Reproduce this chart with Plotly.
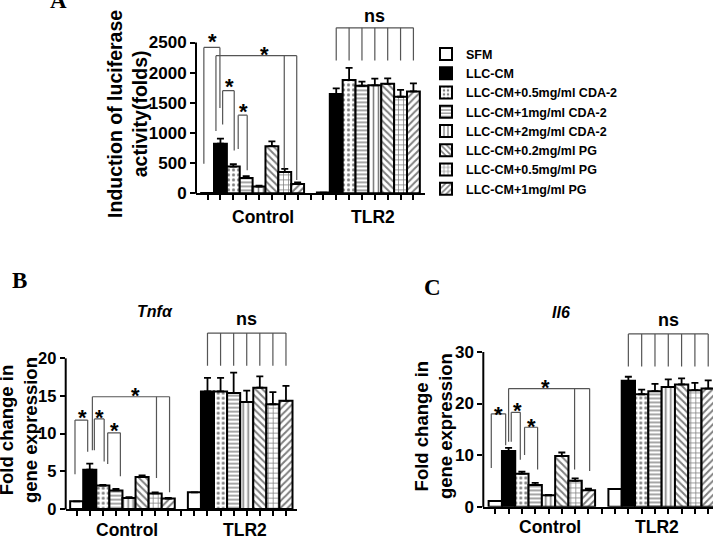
import plotly.graph_objects as go

W, H = 713, 551
FONT = "Liberation Sans, Arial, sans-serif"
SERIF = "Liberation Serif, Times New Roman, serif"

# ---------------- data ----------------
labels = ["SFM", "LLC-CM", "LLC-CM+0.5mg/ml CDA-2", "LLC-CM+1mg/ml CDA-2",
          "LLC-CM+2mg/ml CDA-2", "LLC-CM+0.2mg/ml PG", "LLC-CM+0.5mg/ml PG",
          "LLC-CM+1mg/ml PG"]
groups = ["Control", "TLR2"]

a_ctrl = [1, 820, 440, 250, 110, 780, 350, 152]
a_ctrl_err = [0, 85, 40, 32, 15, 80, 52, 27]
a_tlr2 = [10, 1645, 1878, 1782, 1790, 1815, 1600, 1688]
a_tlr2_err = [0, 95, 200, 68, 110, 90, 115, 135]

b_ctrl = [1.0, 5.2, 3.1, 2.45, 1.45, 4.25, 2.05, 1.37]
b_ctrl_err = [0, 0.8, 0.1, 0.2, 0.1, 0.2, 0.15, 0.1]
b_tlr2 = [2.2, 15.6, 15.6, 15.4, 14.2, 16.1, 13.9, 14.35]
b_tlr2_err = [0, 1.8, 1.8, 2.7, 1.5, 1.5, 1.6, 2.0]

c_ctrl = [1.1, 10.8, 6.4, 4.2, 2.2, 9.8, 5.0, 3.2]
c_ctrl_err = [0, 0.6, 0.4, 0.4, 0.1, 0.7, 0.5, 0.3]
c_tlr2 = [3.4, 24.4, 21.8, 22.4, 23.2, 23.7, 22.6, 22.9]
c_tlr2_err = [0, 0.8, 0.9, 1.4, 1.5, 1.2, 1.4, 1.6]

a_ticks = [0, 500, 1000, 1500, 2000, 2500]
b_ticks = [0, 5, 10, 15, 20]
c_ticks = [0, 10, 20, 30]

# significance brackets: legs (category position, lower end), top, star position
a_brackets = [
    dict(legs=[(-0.29, 489), (0.96, 1413)], top=2418, star=(0.36, 2607), text="*"),
    dict(legs=[(0.65, 1033), (5.96, 408), (6.93, 218)], top=2282, star=(4.46, 2390), text="*"),
    dict(legs=[(1.17, 1141), (2.07, 707)], top=1701, star=(1.7, 1858), text="*"),
    dict(legs=[(2.38, 734), (3.08, 381)], top=1294, star=(2.83, 1440), text="*"),
    dict(legs=[(k, 2200) for k in range(10, 17)], top=2744, star=(13.0, 2900), text="ns"),
]
b_brackets = [
    dict(legs=[(-0.13, 4.6), (0.84, 7.6)], top=11.8, star=(0.46, 12.8), text="*"),
    dict(legs=[(1.2, 7.8), (6.1, 4.1), (7.1, 2.2)], top=14.9, star=(4.5, 15.7), text="*"),
    dict(legs=[(1.35, 7.8), (2.1, 6.3)], top=11.95, star=(1.73, 12.8), text="*"),
    dict(legs=[(2.37, 5.95), (3.34, 4.35)], top=10.1, star=(2.88, 11.1), text="*"),
    dict(legs=[(k, 19.0) for k in range(10, 17)], top=23.35, star=(13.0, 25.0), text="ns"),
]
c_brackets = [
    dict(legs=[(-0.3, 7.5), (0.78, 11.9)], top=18.0, star=(0.28, 18.9), text="*"),
    dict(legs=[(1.0, 12.6), (5.96, 7.2), (7.09, 6.9)], top=22.9, star=(3.8, 24.1), text="*"),
    dict(legs=[(1.2, 12.6), (1.88, 9.1)], top=18.3, star=(1.65, 19.6), text="*"),
    dict(legs=[(2.2, 10.0), (3.18, 7.2)], top=15.4, star=(2.7, 16.5), text="*"),
    dict(legs=[(k, 27.2) for k in range(10, 17)], top=33.5, star=(13.0, 35.9), text="ns"),
]

# ---------------- styles ----------------
fills = ["white", "black", "white", "white", "white", "white", "white", "white"]
shapes_p = ["", "", ".", "-", "|", "\\", "+", "/"]
sizes_p = [5, 5, 5, 4, 5, 5, 5, 5]
solid_p = [0.3, 0.3, 0.3, 0.35, 0.32, 0.4, 0.28, 0.4]

GAP = 9  # position offset of the TLR2 group


def px(x):
    return x / W


def py(y):
    return 1 - y / H


panels = [
    dict(key="", ctrl=a_ctrl, ce=a_ctrl_err, tlr=a_tlr2, te=a_tlr2_err, ticks=a_ticks,
         brk=a_brackets, xdom=(196, 425), xr=(-0.9, 16.9), y0px=196.7, scale=0.06136,
         ytop=3000, tickfont=17),
    dict(key="2", ctrl=b_ctrl, ce=b_ctrl_err, tlr=b_tlr2, te=b_tlr2_err, ticks=b_ticks,
         brk=b_brackets, xdom=(65.7, 296.7), xr=(-0.84, 16.82), y0px=518.3, scale=7.667,
         ytop=27, tickfont=16.5),
    dict(key="3", ctrl=c_ctrl, ce=c_ctrl_err, tlr=c_tlr2, te=c_tlr2_err, ticks=c_ticks,
         brk=c_brackets, xdom=(483.3, 713), xr=(-0.9, 16.36), y0px=516, scale=5.25,
         ytop=40, tickfont=17),
]

fig = go.Figure()
layout_shapes = []
annotations = []

for pi, p in enumerate(panels):
    k = p["key"]
    xa, ya = "x" + k, "y" + k
    for i, lab in enumerate(labels):
        pat = dict(shape=shapes_p[i], fgcolor="black", bgcolor=fills[i],
                   size=sizes_p[i], solidity=solid_p[i], fillmode="overlay")
        fig.add_trace(go.Bar(
            x=[i, GAP + i], y=[p["ctrl"][i], p["tlr"][i]],
            width=1.0, name=lab, showlegend=(pi == 0),
            marker=dict(color=fills[i], line=dict(color="black", width=2), pattern=pat),
            error_y=dict(type="data", symmetric=False, array=[p["ce"][i], p["te"][i]],
                         arrayminus=[0, 0], color="black", thickness=1.8, width=3.5),
            xaxis=xa, yaxis=ya, hoverinfo="skip"))

    ytop_px = p["y0px"] - p["ytop"] * p["scale"]
    xdom = [px(p["xdom"][0]), px(p["xdom"][1])]
    ydom = [py(p["y0px"]), py(ytop_px)]
    xname = "xaxis" + k
    yname = "yaxis" + k
    fig.layout[xname] = dict(
        domain=xdom, range=list(p["xr"]), anchor=ya, showgrid=False, zeroline=False,
        showline=True, linecolor="black", linewidth=2, ticks="outside", ticklen=5,
        tickwidth=1.5, tickcolor="black", tickvals=list(range(17)), showticklabels=False,
        fixedrange=True)
    fig.layout[yname] = dict(
        domain=ydom, range=[0, p["ytop"]], anchor=xa, showgrid=False, zeroline=False,
        showline=False, ticks="outside", ticklen=5, tickwidth=1.8, tickcolor="black",
        tickvals=p["ticks"], ticktext=[str(t) for t in p["ticks"]],
        tickfont=dict(family=FONT, size=p["tickfont"], color="black", weight="bold"),
        fixedrange=True)

    # y axis line only up to the last tick
    ymax = p["ticks"][-1]
    y_paper_top = ydom[0] + ymax / p["ytop"] * (ydom[1] - ydom[0])
    layout_shapes.append(dict(type="line", xref="paper", yref="paper",
                              x0=xdom[0], x1=xdom[0], y0=ydom[0] - 0.001, y1=y_paper_top,
                              line=dict(color="black", width=2)))

    # brackets
    for b in p["brk"]:
        xs = [l[0] for l in b["legs"]]
        layout_shapes.append(dict(type="line", xref=xa, yref=ya, x0=min(xs), x1=max(xs),
                                  y0=b["top"], y1=b["top"], line=dict(color="#555", width=1.2)))
        for (lx, lb) in b["legs"]:
            layout_shapes.append(dict(type="line", xref=xa, yref=ya, x0=lx, x1=lx,
                                      y0=lb, y1=b["top"], line=dict(color="#555", width=1.2)))
        if b["text"] == "*":
            annotations.append(dict(x=b["star"][0], y=b["star"][1], xref=xa, yref=ya,
                                    text="<b>*</b>", showarrow=False, yshift=-5,
                                    font=dict(family=FONT, size=22, color="black")))
        else:
            annotations.append(dict(x=b["star"][0], y=b["star"][1], xref=xa, yref=ya,
                                    text="<b>ns</b>", showarrow=False, yshift=2,
                                    font=dict(family=FONT, size=18, color="black")))


def ann(x, y, text, size, family=FONT, angle=0, color="black"):
    annotations.append(dict(x=px(x), y=py(y), xref="paper", yref="paper", text=text,
                            showarrow=False, textangle=angle, xanchor="center",
                            yanchor="middle", font=dict(family=family, size=size, color=color)))


# group labels
ann(262.5, 221, "<b>Control</b>", 17.5)
ann(372.5, 221, "<b>TLR2</b>", 17.5)
ann(127, 540, "<b>Control</b>", 17.5)
ann(245, 540, "<b>TLR2</b>", 17.5)
ann(550, 537, "<b>Control</b>", 17.5)
ann(657, 537, "<b>TLR2</b>", 17.5)

# axis titles
ann(128, 116, "<b>Induction of luciferase<br>activity(folds)</b>", 19.5, angle=-90)
ann(18, 438, "<b>Fold change in<br>gene expression</b>", 18.5, angle=-90)
ann(433, 434, "<b>Fold change in<br>gene expression</b>", 18.5, angle=-90)

# panel titles
ann(155, 317, "<b><i>Tnfα</i></b>", 16)
ann(561, 318, "<b><i>Il6</i></b>", 16)

# panel letters
ann(58, 0, "<b>A</b>", 23, family=SERIF)
ann(19, 286, "<b>B</b>", 23, family=SERIF)
ann(432, 293, "<b>C</b>", 23, family=SERIF)

fig.update_layout(
    width=W, height=H, margin=dict(l=0, r=0, t=0, b=0),
    paper_bgcolor="white", plot_bgcolor="white", barmode="overlay",
    shapes=layout_shapes, annotations=annotations,
    legend=dict(x=px(426), y=py(40), xanchor="left", yanchor="top",
                font=dict(family=FONT, size=12.5, color="black", weight="bold"),
                bgcolor="rgba(0,0,0,0)", tracegroupgap=0, itemwidth=30),
)

fig.write_html("out.html")
